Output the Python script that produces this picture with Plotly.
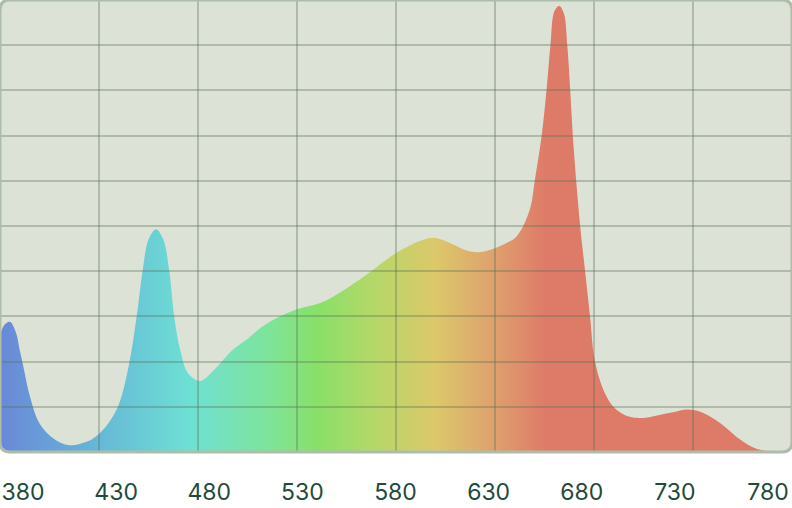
import plotly.graph_objects as go

# ---- data ----
wavelength = [380, 382, 385, 388, 390, 392, 395, 400, 407, 415, 424, 430, 435, 440, 445, 449,
              452, 455, 458.8, 462.5, 465.5, 468, 471, 475, 481, 488, 493, 498, 505, 512, 520,
              530, 542, 555, 565, 580, 592, 599, 607, 616, 622, 630, 636, 640, 644, 648, 650,
              653.5, 656, 658, 660, 662.5, 664.8, 666.5, 668, 669.3, 671, 673, 675.5, 678,
              680.5, 685.5, 690.5, 698, 706, 713, 720, 727, 733, 738, 744, 754, 762, 770, 780]
intensity = [25.5, 28, 28.8, 26.5, 22.5, 18.5, 12.5, 6.3, 3, 1.5, 2.3, 4, 6.5, 10.5, 19, 29.9,
             40, 47, 49.3, 47, 40, 30, 22.6, 17.4, 15.7, 18.1, 20.5, 22.8, 25, 27.6, 29.7,
             31.6, 33, 36.2, 39.2, 44, 46.7, 47.4, 46.3, 44.5, 44.2, 45.1, 46.3, 47.3, 49.8, 54.3, 59.8,
             69.8, 80, 90, 97.5, 98.7, 97, 90, 80, 70, 60, 50, 40, 30,
             20, 13, 9.7, 7.8, 7.6, 8.2, 8.8, 9.4, 9, 8, 6.3, 2.7, 0.7, 0.1, 0]
tick_values = [380, 430, 480, 530, 580, 630, 680, 730, 780]
tick_labels = ["380", "430", "480", "530", "580", "630", "680", "730", "780"]
y_grid = [10, 20, 30, 40, 50, 60, 70, 80, 90]

spectrum_scale = [
    [0.0, "#6a88d8"],
    [0.125, "#66b8d6"],
    [0.24, "#6ee0d4"],
    [0.34, "#7ee49a"],
    [0.40, "#88e068"],
    [0.47, "#b4d868"],
    [0.55, "#dcc86a"],
    [0.625, "#dea06e"],
    [0.69, "#de7a68"],
    [1.0, "#de7a68"],
]

BG = "#dce3d6"
BORDER = "#adbdaa"
GRID = "rgba(90,112,86,0.35)"
W, H = 792, 452
rx, ry = 10 / W, 10 / H

fig = go.Figure()

fig.add_trace(go.Scatter(
    x=wavelength, y=intensity, mode="lines",
    line=dict(width=0, shape="spline", smoothing=1),
    fill="tozeroy",
    fillgradient=dict(type="horizontal", colorscale=spectrum_scale, start=380, stop=780),
    hoverinfo="skip", showlegend=False, xaxis="x", yaxis="y",
))
# grid subplot drawn above the spectrum
fig.add_trace(go.Scatter(x=[], y=[], xaxis="x2", yaxis="y2", showlegend=False, hoverinfo="skip"))
# label axis
fig.add_trace(go.Scatter(x=[], y=[], xaxis="x3", yaxis="y", showlegend=False, hoverinfo="skip"))

rounded = (f"M {rx},0 L {1-rx},0 Q 1,0 1,{ry} L 1,{1-ry} Q 1,1 {1-rx},1 "
           f"L {rx},1 Q 0,1 0,{1-ry} L 0,{ry} Q 0,0 {rx},0 Z")

shapes = [
    dict(type="path", xref="paper", yref="paper", path=rounded, fillcolor=BG,
         line=dict(width=0), layer="below"),
    dict(type="path", xref="paper", yref="paper",
         path=f"M 0,0 L 0,{ry} Q 0,0 {rx},0 Z", fillcolor="white", line=dict(width=0), layer="above"),
    dict(type="path", xref="paper", yref="paper",
         path=f"M 1,0 L {1-rx},0 Q 1,0 1,{ry} Z", fillcolor="white", line=dict(width=0), layer="above"),
    dict(type="path", xref="paper", yref="paper", path=rounded, fillcolor="rgba(0,0,0,0)",
         line=dict(width=3, color=BORDER), layer="above"),
]

# label axis: centers of labels 23px..768px across 792px plot width
px_per_nm = (768 - 23) / 400
r0 = 380 - 23 / px_per_nm
r1 = r0 + W / px_per_nm

fig.update_layout(
    width=792, height=508,
    margin=dict(l=0, r=0, t=0, b=56, pad=0),
    paper_bgcolor="white",
    plot_bgcolor="rgba(0,0,0,0)",
    shapes=shapes,
    hovermode=False,
    xaxis=dict(range=[380, 780], domain=[0, 1], showgrid=False, zeroline=False,
               showticklabels=False, showline=False, ticks=""),
    yaxis=dict(range=[0, 100], domain=[0, 1], showgrid=False, zeroline=False,
               showticklabels=False, showline=False, ticks=""),
    xaxis2=dict(range=[380, 780], domain=[0, 1], anchor="y2", tickvals=tick_values,
                showgrid=True, gridcolor=GRID, gridwidth=2, zeroline=False,
                showticklabels=False, showline=False, ticks=""),
    yaxis2=dict(range=[0, 100], domain=[0, 1], anchor="x2", tickvals=y_grid,
                showgrid=True, gridcolor=GRID, gridwidth=2, zeroline=False,
                showticklabels=False, showline=False, ticks=""),
    xaxis3=dict(range=[r0, r1], overlaying="x", anchor="y", side="bottom",
                tickvals=tick_values, ticktext=tick_labels, showgrid=False, zeroline=False,
                showline=False, ticks="", ticklabelstandoff=24,
                tickfont=dict(family="Inter", size=23, color="#1f4a3c")),
)

fig.write_html(
    "out.html",
    config={"displayModeBar": False, "staticPlot": True},
    post_script="document.body.style.margin='0';document.body.style.padding='0';"
                "document.documentElement.style.overflow='hidden';",
)
